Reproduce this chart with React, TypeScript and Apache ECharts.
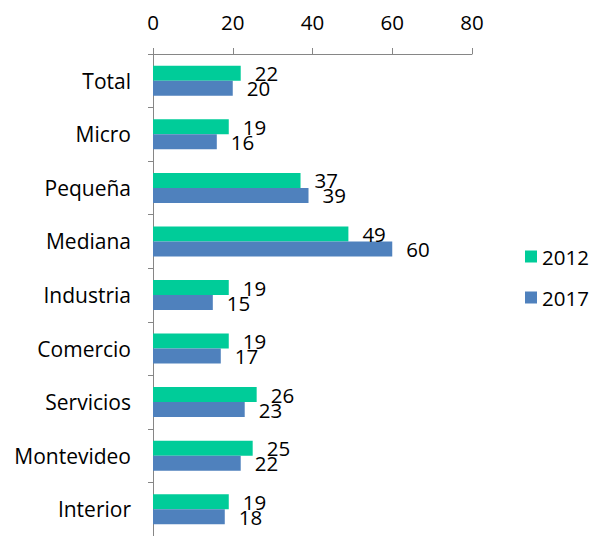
import React, { useEffect, useRef } from "react";
import * as echarts from "echarts";

const categories = ["Total", "Micro", "Pequeña", "Mediana", "Industria", "Comercio", "Servicios", "Montevideo", "Interior"];
const values2012 = [22, 19, 37, 49, 19, 19, 26, 25, 19];
const values2017 = [20, 16, 39, 60, 15, 17, 23, 22, 18];
const xTicks = { min: 0, max: 80, interval: 20 };

const FONT = "Open Sans";
const FS = 20.5;

export default function App() {
  const ref = useRef<HTMLDivElement>(null);
  useEffect(() => {
    if (!ref.current) return;
    const chart = echarts.init(ref.current, undefined, { renderer: "svg" });
    chart.setOption({
      animation: false,
      textStyle: { fontFamily: FONT },
      grid: { left: 153, right: 119, top: 54, bottom: 0, containLabel: false },
      legend: {
        orient: "vertical",
        left: 520,
        top: 241,
        itemWidth: 12,
        itemHeight: 12,
        itemGap: 20,
        icon: "rect",
        textStyle: { fontSize: FS, color: "#000", fontFamily: FONT },
        data: ["2012", "2017"],
      },
      xAxis: {
        type: "value",
        position: "top",
        min: xTicks.min,
        max: xTicks.max,
        interval: xTicks.interval,
        splitLine: { show: false },
        axisLine: { show: true, lineStyle: { color: "#868686", width: 1 } },
        axisTick: { show: true, length: 6, lineStyle: { color: "#868686" } },
        axisLabel: { fontSize: FS, color: "#000", margin: 22, fontFamily: FONT },
      },
      yAxis: {
        type: "category",
        inverse: true,
        data: categories,
        axisLine: { show: true, lineStyle: { color: "#868686", width: 1 } },
        axisTick: { show: true, length: 5, alignWithLabel: false, lineStyle: { color: "#868686" } },
        axisLabel: { fontSize: 21, color: "#000", margin: 22, fontFamily: FONT },
      },
      series: [
        {
          name: "2012",
          type: "bar",
          data: values2012,
          barWidth: 15,
          barGap: "0%",
          itemStyle: { color: "#00CC99" },
          label: { show: true, position: "right", distance: 14, fontSize: FS, color: "#000", fontFamily: FONT },
        },
        {
          name: "2017",
          type: "bar",
          data: values2017,
          barWidth: 15,
          barGap: "0%",
          itemStyle: { color: "#4F81BD" },
          label: { show: true, position: "right", distance: 14, fontSize: FS, color: "#000", fontFamily: FONT },
        },
      ],
    });
    return () => chart.dispose();
  }, []);
  return (
    <div
      ref={ref}
      style={{ position: "absolute", left: 0, top: 0, width: 591, height: 536, background: "#fff" }}
    />
  );
}
